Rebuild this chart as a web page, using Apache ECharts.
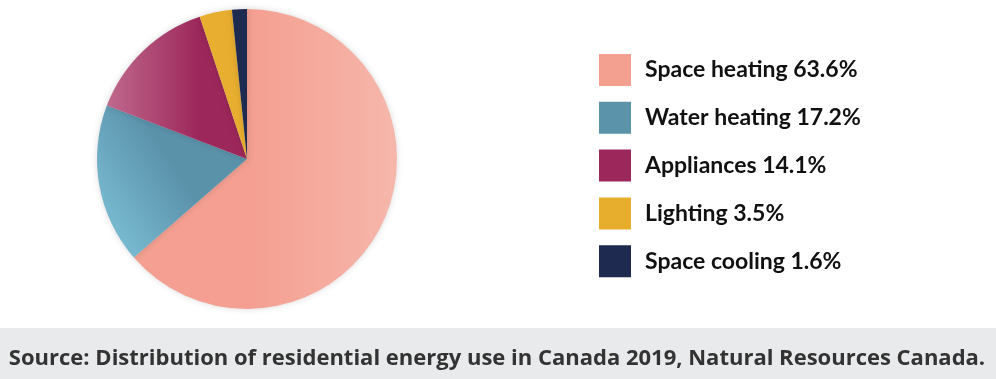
<!DOCTYPE html>
<html><head><meta charset="utf-8">
<script src="https://cdn.jsdelivr.net/npm/echarts@6/dist/echarts.min.js"></script>
<style>html,body{margin:0;padding:0;background:#fff}#c{width:996px;height:379px}</style>
</head><body><div id="c"></div>
<script>
var categories = ['Space heating', 'Water heating', 'Appliances', 'Lighting', 'Space cooling'];
var values = [63.6, 17.2, 14.1, 3.5, 1.6];
var baseColors = ['#F4A091', '#5B93AB', '#9C275A', '#E7AD2D', '#1E2A4F'];
var source = 'Source: Distribution of residential energy use in Canada 2019, Natural Resources Canada.';

function grad(x0, y0, x1, y1, c0, c1) {
  return new echarts.graphic.LinearGradient(x0, y0, x1, y1, [{offset: 0, color: c0}, {offset: 1, color: c1}], true);
}
var fills = [
  grad(250, 0, 397, 0, '#F49F91', '#F6B7AB'),
  grad(190, 190, 105, 245, '#5A92AA', '#7DC0D7'),
  grad(200, 0, 105, 0, '#9C275A', '#C06A8E'),
  '#E8AE2F',
  '#1E2A4F'
];

var chart = echarts.init(document.getElementById('c'));
chart.setOption({
  animation: false,
  legend: {
    orient: 'vertical',
    left: 599, top: 54, padding: 0,
    itemWidth: 32, itemHeight: 32, itemGap: 15.8,
    icon: 'rect',
    textStyle: {fontFamily: 'Lato', fontWeight: 'bold', fontSize: 23, color: '#111', padding: [0, 0, 0, 9]},
    formatter: function (n) { return n + ' ' + values[categories.indexOf(n)] + '%'; },
    data: categories.map(function (c, i) { return {name: c, itemStyle: {color: baseColors[i]}}; })
  },
  graphic: [
    {type: 'rect', shape: {x: 0, y: 328, width: 996, height: 51}, style: {fill: '#E9EAEB'}, z: -1},
    {type: 'text', x: 497, y: 359, style: {text: source, fontFamily: 'Open Sans', fontWeight: 'bold', fontSize: 22, fill: '#333', textAlign: 'center', textVerticalAlign: 'middle'}}
  ],
  series: [{
    type: 'pie',
    center: [247, 159],
    radius: [0, 150],
    startAngle: 90,
    clockwise: true,
    label: {show: false},
    labelLine: {show: false},
    silent: true,
    itemStyle: {shadowBlur: 6, shadowColor: 'rgba(0,0,0,0.15)'},
    data: categories.map(function (c, i) {
      return {name: c, value: values[i], itemStyle: {color: fills[i]}};
    })
  }],
  color: baseColors
});
</script></body></html>
